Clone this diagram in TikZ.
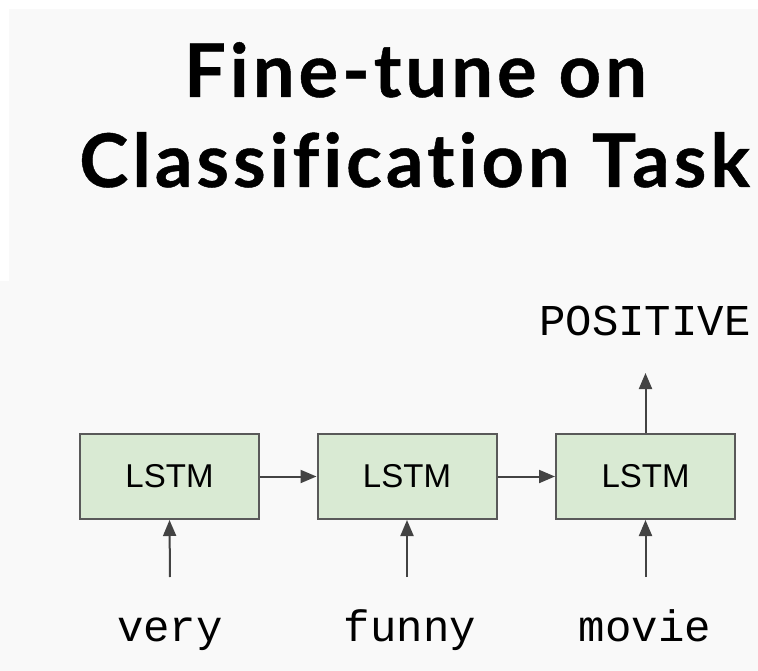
\documentclass[tikz,border=0pt]{standalone}
\usepackage{fontspec}
\setmainfont{Liberation Sans}
\newfontfamily\titlefont[Ligatures=NoCommon,LetterSpace=5.5,BoldFeatures={FakeBold=0.6}]{Lato}
\newfontfamily\monofont{Liberation Mono}
\usetikzlibrary{arrows.meta}
\definecolor{bgcol}{HTML}{F9F9F9}
\definecolor{boxfill}{HTML}{D9EAD3}
\definecolor{boxline}{HTML}{595959}
\definecolor{arrcol}{HTML}{434343}
\tikzset{
  title/.style={anchor=base, inner sep=0pt, font=\titlefont\bfseries\fontsize{74}{80}\selectfont},
  lstm/.style={draw=boxline, fill=boxfill, line width=2pt, minimum width=179pt, minimum height=85pt, inner sep=0pt, font=\fontsize{33}{36}\selectfont},
  word/.style={anchor=base, inner sep=0pt, font=\monofont\fontsize{44}{48}\selectfont},
  arr/.style={draw=arrcol, line width=2pt, -{Triangle[length=16pt,width=13pt]}}
}
\begin{document}
\begin{tikzpicture}[x=1pt,y=-1pt]
\useasboundingbox (0,0) rectangle (758,671);
\fill[white] (0,0) rectangle (758,671);
\fill[bgcol] (9,9) rectangle (758,281);
\fill[bgcol] (0,281) rectangle (758,671);
\node[title] (t1) at (415.5,97) {Fine-tune on};
\node[title] (t2) at (414.5,187) {Classification Task};
\node[lstm] (b1) at (169.5,476.5) {LSTM};
\node[lstm] (b2) at (407,476.5) {LSTM};
\node[lstm] (b3) at (645.5,476.5) {LSTM};
\node[word] (w1) at (170,641) {very};
\node[word] (w2) at (410,641) {funny};
\node[word] (w3) at (645,641) {movie};
\node[word] (pos) at (645,335) {POSITIVE};
\coordinate (i1) at (170,577);
\coordinate (i2) at (407,577);
\coordinate (i3) at (645.5,577);
\coordinate (o3) at (645.5,373);
\draw[arr] (b1.east) -- (b2.west);
\draw[arr] (b2.east) -- (b3.west);
\draw[arr] (i1) -- (b1.south);
\draw[arr] (i2) -- (b2.south);
\draw[arr] (i3) -- (b3.south);
\draw[arr] (b3.north) -- (o3);
\end{tikzpicture}
\end{document}
